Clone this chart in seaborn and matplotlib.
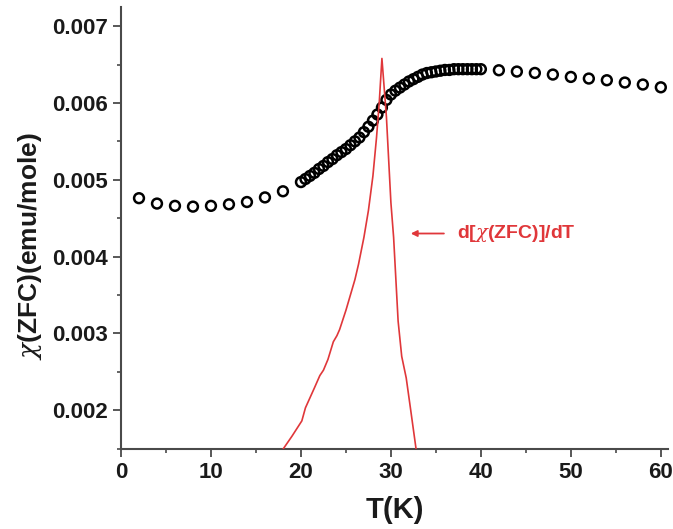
import numpy as np
import pandas as pd
import matplotlib
matplotlib.use("Agg")
import matplotlib.pyplot as plt
from matplotlib.ticker import AutoMinorLocator, MultipleLocator
import seaborn as sns

# ZFC susceptibility (open circles)
t_low = [2, 4, 6, 8, 10, 12, 14, 16, 18]
chi_low = [0.00476, 0.00469, 0.00466, 0.00465, 0.00466, 0.00468, 0.00471, 0.00477, 0.00485]

t_mid = [20.0, 20.5, 21.0, 21.5, 22.0, 22.5, 23.0, 23.5, 24.0, 24.5,
         25.0, 25.5, 26.0, 26.5, 27.0, 27.5, 28.0, 28.5, 29.0, 29.5,
         30.0, 30.5, 31.0, 31.5, 32.0, 32.5, 33.0, 33.5, 34.0, 34.5,
         35.0, 35.5, 36.0, 36.5, 37.0, 37.5, 38.0, 38.5, 39.0, 39.5, 40.0]
chi_mid = [0.00497, 0.00501, 0.00505, 0.00509, 0.00514, 0.00518, 0.00523, 0.00527, 0.00532, 0.00536,
           0.00540, 0.00545, 0.00550, 0.00555, 0.00562, 0.00569, 0.00577, 0.00585, 0.00594, 0.00604,
           0.00611, 0.00616, 0.00620, 0.00624, 0.00628, 0.00631, 0.00634, 0.00637, 0.00639, 0.00640,
           0.00641, 0.00642, 0.00643, 0.00643, 0.00644, 0.00644, 0.00644, 0.00644, 0.00644, 0.00644, 0.00644]

t_high = [42, 44, 46, 48, 50, 52, 54, 56, 58, 60]
chi_high = [0.006426, 0.006409, 0.006391, 0.00637, 0.006339, 0.006318, 0.006296, 0.006266, 0.00624, 0.006204]

# derivative curve (red), drawn in the same units
t_deriv = [18.0, 19.0, 20.1, 20.5, 21.0, 21.5, 22.1, 22.5, 23.0, 23.6, 24.0,
           24.3, 25.0, 25.5, 26.0, 26.4, 27.0, 27.5, 28.0, 28.4, 28.7,
           29.0, 29.5, 30.0, 30.3, 30.8, 31.2, 31.7, 32.2, 32.8]
d_deriv = [0.00149, 0.00166, 0.00186, 0.00203, 0.00216, 0.00229, 0.00245, 0.00252, 0.00266, 0.00289, 0.00297,
           0.00305, 0.00330, 0.00350, 0.00370, 0.00390, 0.00425, 0.00460, 0.00505, 0.00555, 0.00600,
           0.00658, 0.00582, 0.00470, 0.00425, 0.00316, 0.00270, 0.00242, 0.00200, 0.00149]

red = "#e0373a"

sns.set_theme(style="ticks")
plt.rcParams["font.family"] = ["Liberation Sans", "DejaVu Sans"]
plt.rcParams["font.weight"] = "bold"
plt.rcParams["axes.labelweight"] = "bold"
plt.rcParams["mathtext.fontset"] = "custom"
plt.rcParams["mathtext.it"] = "DejaVu Serif:italic:normal"
plt.rcParams["mathtext.rm"] = "Liberation Sans:bold"

chi = pd.DataFrame({"T": t_low + t_mid + t_high, "chi": chi_low + chi_mid + chi_high})
deriv = pd.DataFrame({"T": t_deriv, "d": d_deriv})

fig = plt.figure(figsize=(6.73, 5.29), dpi=100)
ax = fig.add_axes([0.1798, 0.1507, 0.8128, 0.8361])

sns.scatterplot(data=chi, x="T", y="chi", ax=ax, marker="o", s=50,
                facecolors="none", edgecolor="black", linewidth=1.8, zorder=3)
sns.lineplot(data=deriv, x="T", y="d", ax=ax, color=red, lw=1.2, sort=False, zorder=4)

ax.set_xlim(0, 60.8)
ax.set_ylim(0.00149, 0.00725)
ax.xaxis.set_major_locator(MultipleLocator(10))
ax.yaxis.set_major_locator(MultipleLocator(0.001))
ax.xaxis.set_minor_locator(AutoMinorLocator(2))
ax.yaxis.set_minor_locator(AutoMinorLocator(2))
ax.yaxis.set_major_formatter(matplotlib.ticker.FormatStrFormatter("%.3f"))

for side in ["top", "right"]:
    ax.spines[side].set_visible(False)
for side in ["left", "bottom"]:
    ax.spines[side].set_color("#4a4a4a")
    ax.spines[side].set_linewidth(1.5)

ax.tick_params(which="major", direction="out", length=5.5, width=1.3, color="#4a4a4a",
               labelsize=16, pad=4, labelcolor="#1a1a1a")
ax.tick_params(which="minor", direction="out", length=3, width=1.2, color="#4a4a4a")
for lab in ax.get_xticklabels() + ax.get_yticklabels():
    lab.set_fontweight("bold")

ax.set_xlabel("T(K)", fontsize=21, fontweight="bold", color="#1a1a1a")
ax.set_ylabel(r"$\chi$(ZFC)(emu/mole)", fontsize=19, fontweight="bold", color="#1a1a1a")
ax.xaxis.set_label_coords(0.5, -0.105)
ax.xaxis.label.set_va("top")
ax.yaxis.set_label_coords(-0.14, 0.46)

ax.annotate("", xy=(31.9, 0.0043), xytext=(36.2, 0.0043),
            arrowprops=dict(arrowstyle="-|>", color=red, lw=1.3, mutation_scale=9))
ax.text(37.4, 0.0043, r"d[$\chi$(ZFC)]/dT", color=red, fontsize=14,
        fontweight="bold", va="center", ha="left")

fig.savefig("out.png", dpi=100)
